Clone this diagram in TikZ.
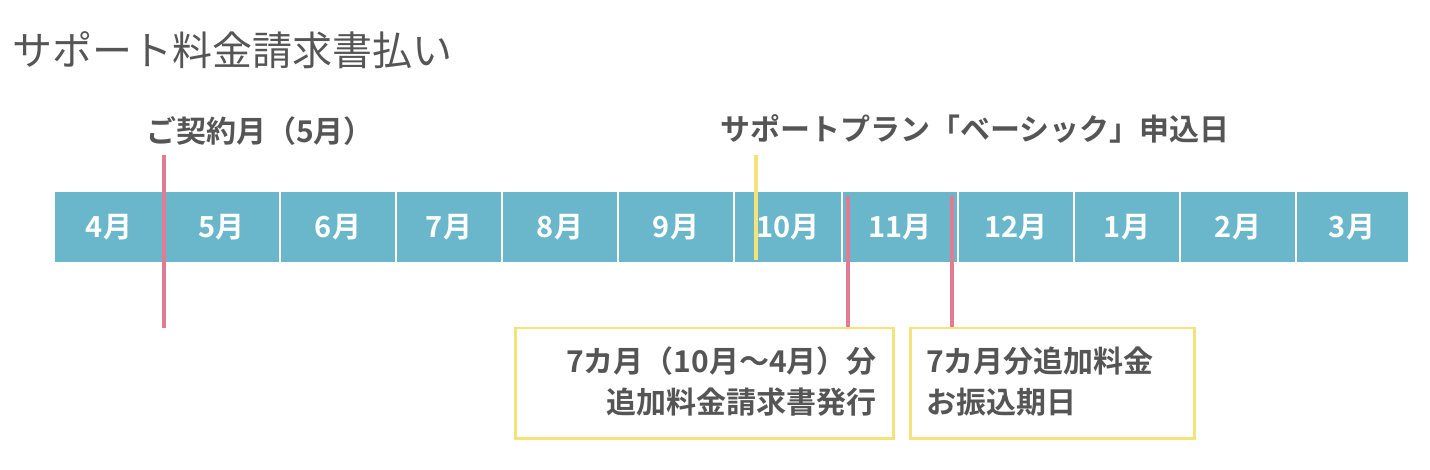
\documentclass[tikz,border=0pt]{standalone}
\usepackage{fontspec}
\setmainfont{Noto Sans CJK JP}
\newfontfamily\jpb{Noto Sans CJK JP Bold}
\begin{document}
\begin{tikzpicture}[x=1pt,y=-1pt,
  bar/.style={fill=barc,draw=none},
  sep/.style={draw=white,line width=1.5pt},
  mon/.style={text=white,font=\jpb\fontsize{29}{34}\selectfont},
  lbl/.style={text=txt,font=\jpb\fontsize{30}{41}\selectfont},
  pinkl/.style={draw=pinkc,line width=3.5pt},
  yell/.style={draw=yelc,line width=3.5pt},
  boxs/.style={draw=yelc,line width=2.5pt,fill=white}]
\definecolor{barc}{HTML}{6AB7CB}
\definecolor{pinkc}{HTML}{E07B93}
\definecolor{yelc}{HTML}{F5E27A}
\definecolor{txt}{HTML}{555555}
\useasboundingbox (0,0) rectangle (1430,470);
\node[anchor=west,text=txt,font=\fontsize{40}{46}\selectfont,inner sep=0pt] (title) at (12,50) {サポート料金請求書払い};
\fill[bar] (55,192) rectangle (1408,262);
\foreach \a/\b/\m [count=\i] in {55/163/4,163/280/5,280/396/6,396/502/7,502/618/8,618/734/9,734/842/10,842/958/11,958/1074/12,1074/1180/1,1180/1296/2,1296/1408/3}{
  \node[mon] (m\i) at ({(\a+\b)/2},227) {\m 月};
}
\foreach \s in {163,280,396,502,618,734,842,958,1074,1180,1296}{
  \coordinate (st\s) at (\s,192); \coordinate (sb\s) at (\s,262);
  \draw[sep] (st\s) -- (sb\s);
}
\node[lbl] (contract) at (260,131) {ご契約月（5月）};
\node[lbl] (plan) at (975,129) {サポートプラン「ベーシック」申込日};
\coordinate (p1t) at (164,155); \coordinate (p1b) at (164,328);
\draw[pinkl] (p1t) -- (p1b);
\coordinate (y1t) at (756,155); \coordinate (y1b) at (756,260);
\draw[yell] (y1t) -- (y1b);
\node[boxs,minimum width=378pt,minimum height=110pt,anchor=north west] (box1) at (514,327) {};
\node[boxs,minimum width=284pt,minimum height=110pt,anchor=north west] (box2) at (909,327) {};
\coordinate (p2t) at (848,196); \coordinate (p3t) at (952,196);
\draw[pinkl] (p2t) -- (p2t |- box1.north);
\draw[pinkl] (p3t) -- (p3t |- box2.north);
\node[lbl,align=right,anchor=east,inner sep=0pt] (t1) at (877,382) {7カ月（10月〜4月）分\\追加料金請求書発行};
\node[lbl,align=left,anchor=west,inner sep=0pt] (t2) at (926,382) {7カ月分追加料金\\お振込期日};
\end{tikzpicture}
\end{document}
